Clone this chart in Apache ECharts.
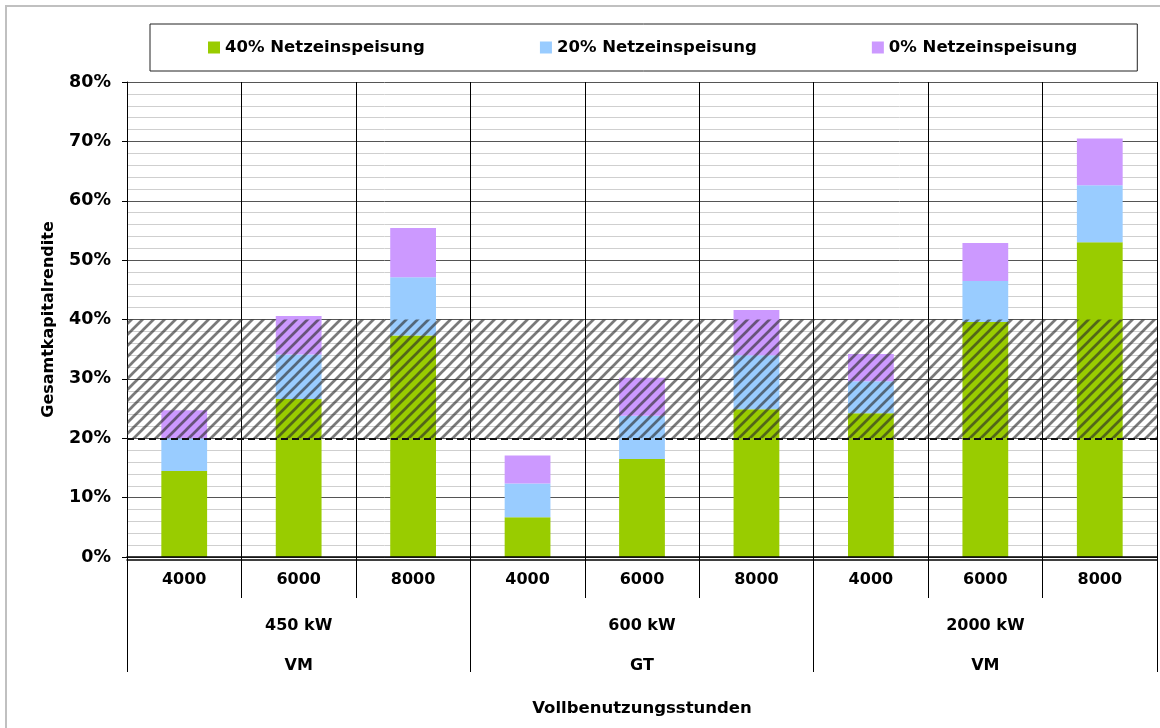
<!DOCTYPE html>
<html>
<head>
<meta charset="utf-8">
<script src="https://cdn.jsdelivr.net/npm/echarts@6/dist/echarts.min.js"></script>
<style>
  html, body { margin: 0; padding: 0; background: #fff; }
  #chart { width: 1160px; height: 728px; }
</style>
</head>
<body>
<div id="chart"></div>
<script>
  // Kategorien (drei Ebenen)
  const hours = ['4000', '6000', '8000', '4000', '6000', '8000', '4000', '6000', '8000']
  const plants = ['450 kW', '600 kW', '2000 kW']
  const kinds = ['VM', 'GT', 'VM']
  // Stapelwerte in Prozent
  const feed40 = [14.5, 26.6, 37.3, 6.7, 16.5, 24.9, 24.2, 39.6, 53.0]
  const feed20 = [5.5, 7.5, 9.8, 5.7, 7.3, 9.1, 5.4, 6.9, 9.6]
  const feed0 = [4.7, 6.5, 8.3, 4.7, 6.4, 7.6, 4.6, 6.4, 7.9]
  const seriesNames = ['40% Netzeinspeisung', '20% Netzeinspeisung', '0% Netzeinspeisung']
  const seriesColors = ['#99cc00', '#99ccff', '#cc99ff']
  // Zielbereich
  const bandLow = 20
  const bandHigh = 40

  const font = 'DejaVu Sans'

  /** Schraffur fuer den Zielbereich */
  const makeHatch = () => {
    const size = 11
    const c = document.createElement('canvas')
    c.width = size
    c.height = size
    const ctx = c.getContext('2d')
    ctx.strokeStyle = 'rgba(40,40,40,0.62)'
    ctx.lineWidth = 2.7
    ctx.beginPath()
    ctx.moveTo(-2, size + 2)
    ctx.lineTo(size + 2, -2)
    ctx.moveTo(-2, 2)
    ctx.lineTo(2, -2)
    ctx.moveTo(size - 2, size + 2)
    ctx.lineTo(size + 2, size - 2)
    ctx.stroke()
    return c
  }

  const chartDom = echarts.init(document.getElementById('chart'))

  const barSeries = seriesNames.map((name, i) => ({
    name: name,
    type: 'bar',
    stack: 'total',
    xAxisIndex: 0,
    barWidth: '40%',
    itemStyle: { color: seriesColors[i] },
    data: [feed40, feed20, feed0][i]
  }))

  const boldText = (size) => ({ fontFamily: font, fontWeight: 'bold', fontSize: size, color: '#000' })

  chartDom.setOption({
    animation: false,
    textStyle: { fontFamily: font },
    graphic: [
      {
        type: 'rect',
        shape: { x: 6, y: 6, width: 1170, height: 740 },
        style: { fill: 'none', stroke: '#c0c0c0', lineWidth: 2 },
        silent: true
      }
    ],
    legend: {
      data: seriesNames,
      left: 150,
      top: 24,
      padding: [15, 60, 15, 58],
      itemGap: 115,
      itemWidth: 12,
      itemHeight: 12,
      icon: 'rect',
      borderColor: '#222',
      borderWidth: 1,
      textStyle: boldText(16.5)
    },
    grid: {
      left: 127,
      right: 3,
      top: 82,
      bottom: 171
    },
    xAxis: [
      {
        type: 'category',
        data: hours,
        position: 'bottom',
        name: 'Vollbenutzungsstunden',
        nameLocation: 'middle',
        nameGap: 143,
        nameTextStyle: boldText(16.5),
        axisLine: { show: true, lineStyle: { color: '#000', width: 1.5 } },
        axisTick: { show: true, length: 41, interval: 0, lineStyle: { color: '#000' } },
        axisLabel: Object.assign({ interval: 0, margin: 15 }, boldText(16)),
        splitLine: { show: true, interval: 0, lineStyle: { color: '#000', width: 1 } },
        z: 3
      },
      {
        type: 'category',
        data: plants,
        position: 'bottom',
        offset: 3,
        axisLine: { show: true, lineStyle: { color: '#000', width: 1.5 } },
        axisTick: { show: true, length: 112, interval: 0, lineStyle: { color: '#000' } },
        axisLabel: Object.assign({
          interval: 0,
          margin: 46,
          lineHeight: 40,
          formatter: (value, index) => value + '\n' + kinds[index]
        }, boldText(16)),
        splitLine: { show: false }
      }
    ],
    yAxis: {
      type: 'value',
      min: 0,
      max: 80,
      interval: 10,
      name: 'Gesamtkapitalrendite',
      nameLocation: 'middle',
      nameGap: 70,
      nameTextStyle: boldText(16),
      axisLine: { show: true, lineStyle: { color: '#000' } },
      axisTick: { show: true, length: 5, lineStyle: { color: '#000' } },
      axisLabel: Object.assign({ margin: 16, formatter: '{value}%' }, boldText(17.5)),
      splitLine: { show: true, lineStyle: { color: '#555', width: 1 } },
      minorTick: { show: false, splitNumber: 5 },
      minorSplitLine: { show: true, lineStyle: { color: '#cfcfcf', width: 1 } }
    },
    series: [
      ...barSeries,
      {
        // Zielbereich schraffiert + Grenzlinie
        name: 'band',
        type: 'line',
        xAxisIndex: 0,
        data: [],
        z: 10,
        markArea: {
          silent: true,
          z: 10,
          itemStyle: { color: { image: makeHatch(), repeat: 'repeat' } },
          label: { show: false },
          data: [[{ yAxis: bandLow }, { yAxis: bandHigh }]]
        },
        markLine: {
          silent: true,
          z: 11,
          symbol: 'none',
          label: { show: false },
          lineStyle: { color: '#111', width: 2.2, type: [7, 4] },
          data: [{ yAxis: bandLow }]
        }
      }
    ]
  })
</script>
</body>
</html>
